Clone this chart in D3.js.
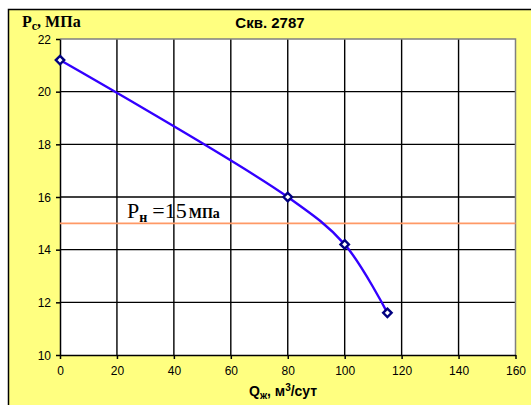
<!DOCTYPE html>
<html><head><meta charset="utf-8">
<script src="https://cdn.jsdelivr.net/npm/d3@7"></script>
<style>body{margin:0;background:#fff;}svg{display:block;}</style>
</head><body>
<svg id="c" width="531" height="405"></svg>
<script>
const qValues = [0, 80, 100, 115];
const pValues = [21.2, 16.0, 14.2, 11.6];
const xTicks = [0, 20, 40, 60, 80, 100, 120, 140, 160];
const yTicks = [10, 12, 14, 16, 18, 20, 22];
const pressureLine = 15;

const svg = d3.select("#c");
svg.append("rect").attr("x", 8.5).attr("y", 9.5).attr("width", 540).attr("height", 420)
  .attr("fill", "#FFFF80").attr("stroke", "#000").attr("stroke-width", 1.5);

const L = 60, R = 515.5, T = 39, B = 355;
const x = d3.scaleLinear().domain([0, 160]).range([L, R]);
const y = d3.scaleLinear().domain([10, 22]).range([B, T]);

svg.append("rect").attr("x", L).attr("y", T).attr("width", R - L).attr("height", B - T).attr("fill", "#fff");

const g = svg.append("g");
g.selectAll("line.vx").data(xTicks.slice(1, -1)).enter().append("line")
  .attr("x1", d => x(d)).attr("x2", d => x(d)).attr("y1", T).attr("y2", B)
  .attr("stroke", "#000").attr("stroke-width", 1.4);
g.selectAll("line.hy").data(yTicks.slice(1, -1)).enter().append("line")
  .attr("x1", L).attr("x2", R).attr("y1", d => y(d)).attr("y2", d => y(d))
  .attr("stroke", "#000").attr("stroke-width", 1.4);
svg.append("path").attr("d", `M${L},${T}H${R}V${B}`).attr("fill", "none").attr("stroke", "#808080").attr("stroke-width", 1.5);

const xAxis = svg.append("g").attr("transform", `translate(0,${B})`)
  .call(d3.axisBottom(x).tickValues(xTicks).tickSize(4).tickSizeOuter(0));
const yAxis = svg.append("g").attr("transform", `translate(${L},0)`)
  .call(d3.axisLeft(y).tickValues(yTicks).tickSize(4).tickSizeOuter(0));
[xAxis, yAxis].forEach(a => {
  a.select(".domain").attr("stroke", "#000").attr("stroke-width", 1.5);
  a.selectAll(".tick line").attr("stroke", "#000").attr("stroke-width", 1.5);
  a.selectAll("text").attr("font-family", "Liberation Sans, Arial, sans-serif").attr("font-size", 12).attr("fill", "#000");
});
xAxis.selectAll("text").attr("dy", "1.05em");
yAxis.selectAll("text").attr("dx", "-2").attr("dy", "0.35em");

svg.append("line").attr("x1", L).attr("x2", R).attr("y1", y(pressureLine)).attr("y2", y(pressureLine))
  .attr("stroke", "#FF9966").attr("stroke-width", 1.6);

const pts = qValues.map((q, i) => [q, pValues[i]]);
const line = d3.line().x(d => x(d[0])).y(d => y(d[1])).curve(d3.curveCatmullRom.alpha(0.5));
svg.append("path").attr("d", line(pts)).attr("fill", "none").attr("stroke", "#3300FF").attr("stroke-width", 2.4);

svg.selectAll("path.m").data(pts).enter().append("path")
  .attr("d", d3.symbol().type(d3.symbolDiamond2).size(45))
  .attr("transform", d => `translate(${x(d[0])},${y(d[1])})`)
  .attr("fill", "#fff").attr("stroke", "#000080").attr("stroke-width", 2.4);

const lab = svg.append("text").attr("x", 127).attr("y", 218)
  .attr("font-family", "Liberation Serif, Times New Roman, serif").attr("fill", "#000");
lab.append("tspan").attr("font-size", 22).text("Р");
lab.append("tspan").attr("font-size", 14).attr("font-weight", "bold").attr("dy", 4).text("н");
lab.append("tspan").attr("font-size", 22).attr("dy", -4).attr("dx", 5).text("=15");
lab.append("tspan").attr("font-size", 14).attr("font-weight", "bold").attr("dx", 2).text("МПа");

svg.append("text").attr("x", 270).attr("y", 28).attr("text-anchor", "middle")
  .attr("font-family", "Liberation Sans, Arial, sans-serif").attr("font-weight", "bold").attr("font-size", 15)
  .text("Скв. 2787");

const yt = svg.append("text").attr("x", 22).attr("y", 27)
  .attr("font-family", "Liberation Serif, Times New Roman, serif").attr("font-weight", "bold").attr("font-size", 16);
yt.append("tspan").text("P");
yt.append("tspan").attr("font-size", 12).attr("dy", 3).text("c");
yt.append("tspan").attr("dy", -3).text(", МПа");

const xt = svg.append("text").attr("x", 249).attr("y", 396)
  .attr("font-family", "Liberation Sans, Arial, sans-serif").attr("font-weight", "bold").attr("font-size", 14);
xt.append("tspan").text("Q");
xt.append("tspan").attr("font-size", 10).attr("dy", 3).text("ж");
xt.append("tspan").attr("dy", -3).text(", м");
xt.append("tspan").attr("font-size", 10).attr("dy", -5).text("3");
xt.append("tspan").attr("dy", 5).text("/сут");
</script>
</body></html>
